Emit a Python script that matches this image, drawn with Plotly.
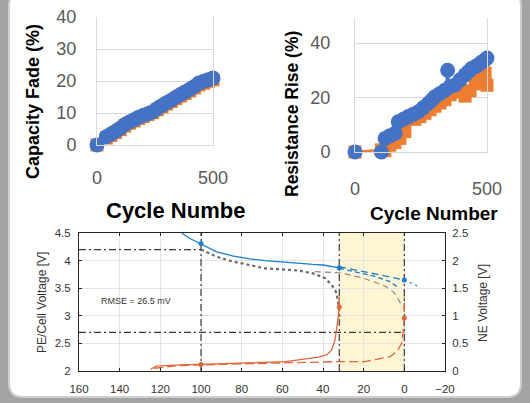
import plotly.graph_objects as go

W, H = 530, 403

# ---------------- Top-left: Capacity fade ----------------
cf_cycles_orange = [0, 40, 60, 80, 100, 120, 140, 160, 180, 200, 220, 240, 260, 280, 300,
                    320, 340, 360, 380, 400, 420, 440, 460, 480, 500]
cf_orange = [0, 2.2, 3.0, 3.9, 4.8, 5.9, 6.8, 7.5, 8.3, 8.9, 9.5, 10.1, 11.0, 11.9, 12.8,
             13.6, 14.5, 15.3, 16.1, 16.9, 17.8, 18.8, 19.3, 19.9, 20.4]
cf_cycles_blue = [0, 40, 60, 80, 100, 120, 140, 160, 180, 200, 220, 240, 260, 280, 300,
                  320, 340, 360, 380, 400, 420, 440, 460, 480, 500]
cf_blue = [0, 2.6, 3.4, 4.3, 5.2, 6.4, 7.2, 7.9, 8.7, 9.3, 9.8, 10.4, 11.4, 12.3, 13.2,
           14.0, 14.9, 15.8, 16.6, 17.4, 18.3, 19.4, 19.9, 20.4, 20.9]

# ---------------- Top-right: Resistance rise ----------------
rr_cycles_orange = [0, 100, 113, 132, 151, 170, 189, 208, 227, 246, 265, 284, 303, 322, 341,
                    360, 379, 398, 417, 436, 455, 474, 493, 500]
rr_orange = [0, 0.8, 0.5, 2.5, 3.5, 5.0, 7.5, 12.5, 12.0, 13.0, 14.2, 15.5, 16.8, 18.0, 19.2,
             21.0, 23.0, 22.0, 20.5, 22.5, 25.0, 27.0, 29.0, 24.5]
rr_cycles_blue = [0, 100, 114, 133, 152, 164, 183, 202, 221, 240, 259, 278, 291, 303, 322,
                  341, 351, 360, 379, 398, 417, 430, 442, 455, 467, 480, 492, 500]
rr_blue = [0, 0, 5.0, 6.0, 6.9, 11.1, 12.0, 13.0, 13.9, 14.8, 16.3, 17.9, 19.1, 20.3, 21.5,
           22.7, 30.0, 24.0, 24.6, 26.5, 28.3, 29.5, 30.7, 31.3, 32.0, 33.0, 33.8, 34.5]

top_x_ticks = [0, 500]

# ---------------- Bottom: voltage curves ----------------
pe_x = [109.5, 105.4, 100.5, 92.3, 84, 76, 68.5, 60, 52, 45, 40, 36, 32]
pe_y = [4.5, 4.40, 4.31, 4.16, 4.08, 4.03, 4.0, 3.97, 3.95, 3.93, 3.92, 3.89, 3.87]

cell_meas_x = [100, 92.3, 84, 76, 68.5, 60, 52, 44, 39, 35.7, 33.7, 32.7, 32.1, 32.0]
cell_meas_y = [4.2, 4.07, 3.98, 3.92, 3.86, 3.84, 3.82, 3.76, 3.68, 3.56, 3.44, 3.29, 3.11, 2.95]

cell_sim_x = [44, 36, 32, 29, 20, 10, 5, 2.5, 1]
cell_sim_y = [3.80, 3.79, 3.78, 3.76, 3.68, 3.55, 3.42, 3.27, 3.15]

pe_pred1_x = [32, 25, 15, 8, 0]
pe_pred1_y = [3.89, 3.84, 3.77, 3.71, 3.65]
pe_pred2_x = [32, 25, 15, 7, 3.7]
pe_pred2_y = [3.86, 3.80, 3.72, 3.62, 3.53]
pe_ext_x = [0, -7]
pe_ext_y = [3.65, 3.53]

ne_x = [124.8, 122, 110, 100.5, 85, 68.5, 58.7, 52, 42.3, 38.2, 35.7, 34.1, 33.3, 32.5, 32, 32]
ne_y = [0.03, 0.09, 0.11, 0.12, 0.14, 0.15, 0.17, 0.20, 0.25, 0.29, 0.38, 0.56, 0.74, 0.98, 1.15, 1.35]

ne_pred_x = [123, 110, 90, 68.5, 50, 32.5, 19.3, 7.0, 3.7, 1.3, 0.5, 0, 0]
ne_pred_y = [0.05, 0.10, 0.12, 0.14, 0.15, 0.17, 0.17, 0.26, 0.35, 0.50, 0.74, 0.96, 1.35]

pe_mark_x = [100, 32, 0]
pe_mark_y = [4.31, 3.87, 3.65]
ne_mark_x = [100, 32, 0]
ne_mark_y = [0.12, 1.16, 0.96]

vline_x = [100, 32, 0]
hline_y = [4.2, 2.7]
hline_x_end = [100, 0]
shade_x = [32, 0]
bottom_x_range = [160, -20]
left_v_range = [2, 4.5]
right_v_range = [0, 2.5]

BLUE = "#4472C4"
ORANGE = "#ED7D31"
M_BLUE = "#1a7fcc"
M_ORANGE = "#e4643a"
FONT = "Liberation Sans, Arial, sans-serif"


def dx(p0, p1):
    return [p0 / W, p1 / W]


def dy(p0, p1):
    return [1 - p1 / H, 1 - p0 / H]


def px(x):
    return x / W


def py(y):
    return 1 - y / H


fig = go.Figure()

# top-left
fig.add_trace(go.Scatter(x=cf_cycles_orange, y=cf_orange, mode="lines+markers",
                         line=dict(color=ORANGE, width=2.5),
                         marker=dict(symbol="square", size=13, color=ORANGE),
                         cliponaxis=False, xaxis="x", yaxis="y"))
fig.add_trace(go.Scatter(x=cf_cycles_blue, y=cf_blue, mode="lines+markers",
                         line=dict(color=BLUE, width=2.5),
                         marker=dict(symbol="circle", size=15, color=BLUE),
                         cliponaxis=False, xaxis="x", yaxis="y"))
# top-right
fig.add_trace(go.Scatter(x=rr_cycles_orange, y=rr_orange, mode="lines+markers",
                         line=dict(color=ORANGE, width=2.5),
                         marker=dict(symbol="square", size=13, color=ORANGE),
                         cliponaxis=False, xaxis="x2", yaxis="y2"))
fig.add_trace(go.Scatter(x=rr_cycles_blue, y=rr_blue, mode="lines+markers",
                         line=dict(color=BLUE, width=2, shape="spline", smoothing=0.6),
                         marker=dict(symbol="circle", size=15, color=BLUE),
                         cliponaxis=False, xaxis="x2", yaxis="y2"))

# bottom reference lines
REF = dict(color="#3a3a3a", width=1.2, dash="7px,3px,2px,3px")
for xv in vline_x:
    fig.add_trace(go.Scatter(x=[xv, xv], y=left_v_range, mode="lines", line=REF,
                             xaxis="x3", yaxis="y3"))
for yv, xe in zip(hline_y, hline_x_end):
    fig.add_trace(go.Scatter(x=[bottom_x_range[0], xe], y=[yv, yv], mode="lines", line=REF,
                             xaxis="x3", yaxis="y3"))

# bottom curves
fig.add_trace(go.Scatter(x=cell_meas_x, y=cell_meas_y, mode="lines",
                         line=dict(color="#6a6a6a", width=2.2, dash="dot"), xaxis="x3", yaxis="y3"))
fig.add_trace(go.Scatter(x=cell_sim_x, y=cell_sim_y, mode="lines",
                         line=dict(color="#8a8a8a", width=1.2, dash="6px,4px"), xaxis="x3", yaxis="y3"))
fig.add_trace(go.Scatter(x=pe_x, y=pe_y, mode="lines",
                         line=dict(color=M_BLUE, width=1.3), xaxis="x3", yaxis="y3"))
fig.add_trace(go.Scatter(x=pe_pred1_x, y=pe_pred1_y, mode="lines",
                         line=dict(color=M_BLUE, width=1.3, dash="7px,4px"), xaxis="x3", yaxis="y3"))
fig.add_trace(go.Scatter(x=pe_pred2_x, y=pe_pred2_y, mode="lines",
                         line=dict(color=M_BLUE, width=1.3, dash="5px,3px"), xaxis="x3", yaxis="y3"))
fig.add_trace(go.Scatter(x=pe_ext_x, y=pe_ext_y, mode="lines",
                         line=dict(color=M_BLUE, width=1.3, dash="2px,4px"), xaxis="x3", yaxis="y3"))
fig.add_trace(go.Scatter(x=pe_mark_x, y=pe_mark_y, mode="markers",
                         marker=dict(color=M_BLUE, size=5), xaxis="x3", yaxis="y3"))
fig.add_trace(go.Scatter(x=ne_x, y=ne_y, mode="lines",
                         line=dict(color=M_ORANGE, width=1.3), xaxis="x3", yaxis="y4"))
fig.add_trace(go.Scatter(x=ne_pred_x, y=ne_pred_y, mode="lines",
                         line=dict(color=M_ORANGE, width=1.3, dash="9px,4px"), xaxis="x3", yaxis="y4"))
fig.add_trace(go.Scatter(x=ne_mark_x, y=ne_mark_y, mode="markers",
                         marker=dict(color=M_ORANGE, size=5), xaxis="x3", yaxis="y4"))

# panel shape
x0, x1, y0, y1, r = 9, 521, -8, 397, 14
pts = [
    ("M", [(x0 + r, y0)]), ("L", [(x1 - r, y0)]), ("Q", [(x1, y0), (x1, y0 + r)]),
    ("L", [(x1, y1 - r)]), ("Q", [(x1, y1), (x1 - r, y1)]), ("L", [(x0 + r, y1)]),
    ("Q", [(x0, y1), (x0, y1 - r)]), ("L", [(x0, y0 + r)]), ("Q", [(x0, y0), (x0 + r, y0)]),
]
path = " ".join(cmd + " " + " ".join(f"{px(a):.5f},{py(b):.5f}" for a, b in p) for cmd, p in pts) + " Z"

shapes = [
    dict(type="path", path=path, xref="paper", yref="paper", fillcolor="white",
         line=dict(color="#cfcfcf", width=2), layer="below"),
    dict(type="rect", xref="x3", yref="y3", x0=shade_x[0], x1=shade_x[1],
         y0=left_v_range[0], y1=left_v_range[1], fillcolor="#fdf5d3", line=dict(width=0),
         layer="below"),
]

TICKF = dict(family=FONT, size=18, color="#595959")
GRID = "#d9d9d9"
MT = dict(family=FONT, size=11.5, color="#333333")


def ann(text, x, y, size, color="black", angle=0, xanchor="center"):
    return dict(text=text, x=px(x), y=py(y), xref="paper", yref="paper", textangle=angle,
                xanchor=xanchor, yanchor="middle", showarrow=False,
                font=dict(family=FONT, size=size, color=color))


annotations = [
    ann("<b>Capacity Fade (%)</b>", 33, 102, 18, angle=-90),
    ann("<b>Resistance Rise (%)</b>", 292, 114, 17.5, angle=-90),
    ann("<b>Cycle Numbe</b>", 104, 210, 22, xanchor="left"),
    ann("<b>Cycle Number</b>", 434, 213, 19),
    ann("PE/Cell Voltage [V]", 42, 303, 12, color="#333333", angle=-90),
    ann("NE Voltage [V]", 483, 303, 12, color="#333333", angle=-90),
    dict(text="RMSE = 26.5 mV", x=132, y=3.27, xref="x3", yref="y3", xanchor="center",
         yanchor="middle", showarrow=False, font=dict(family=FONT, size=9, color="#333333")),
]

fig.update_layout(
    width=W, height=H,
    margin=dict(l=0, r=0, t=0, b=0),
    paper_bgcolor="#a3a3a3",
    plot_bgcolor="white",
    showlegend=False,
    shapes=shapes,
    annotations=annotations,
    xaxis=dict(domain=dx(97, 213), anchor="y", range=[0, 500], tickvals=top_x_ticks,
               showgrid=False, zeroline=False, showline=True, linecolor=GRID, linewidth=1,
               tickfont=TICKF, ticks="", ticklabelstandoff=16, automargin=False),
    yaxis=dict(domain=dy(17, 145), anchor="x", range=[0, 40], dtick=10,
               showgrid=True, gridcolor=GRID, zeroline=False, showline=True, mirror=True,
               linecolor=GRID, tickfont=TICKF, ticks="", ticklabelstandoff=16, automargin=False),
    xaxis2=dict(domain=dx(355, 487), anchor="y2", range=[0, 500], tickvals=top_x_ticks,
                showgrid=False, zeroline=False, showline=True, linecolor=GRID, linewidth=1,
                tickfont=TICKF, ticks="", ticklabelstandoff=20, automargin=False),
    yaxis2=dict(domain=dy(18, 152), anchor="x2", range=[0, 49.2], tickvals=[0, 20, 40],
                showgrid=True, gridcolor=GRID, zeroline=False, showline=True, mirror=True,
                linecolor=GRID, tickfont=TICKF, ticks="", ticklabelstandoff=20, automargin=False),
    xaxis3=dict(domain=dx(79, 445), anchor="y3", range=bottom_x_range, dtick=20,
                showgrid=True, gridcolor="#e3e3e3", zeroline=False, showline=True, mirror="ticks",
                linecolor="#262626", linewidth=1, ticks="inside", ticklen=3, tickcolor="#262626",
                tickfont=MT, ticklabelstandoff=7, automargin=False),
    yaxis3=dict(domain=dy(233, 371), anchor="x3", range=left_v_range, dtick=0.5,
                showgrid=True, gridcolor="#e3e3e3", zeroline=False, showline=True,
                linecolor="#262626", linewidth=1, ticks="inside", ticklen=3, tickcolor="#262626",
                tickfont=MT, ticklabelstandoff=5, automargin=False),
    yaxis4=dict(anchor="x3", overlaying="y3", side="right", range=right_v_range, dtick=0.5,
                showgrid=False, zeroline=False, showline=True, linecolor="#262626", linewidth=1,
                ticks="inside", ticklen=3, tickcolor="#262626", tickfont=MT,
                ticklabelstandoff=4, automargin=False),
)

fig.write_html("out.html", config={"displayModeBar": False},
               post_script="document.body.style.margin='0';document.body.style.overflow='hidden';")
